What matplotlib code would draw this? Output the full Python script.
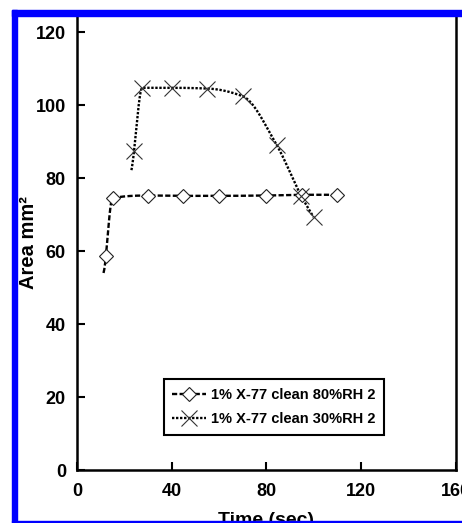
import matplotlib
matplotlib.use("Agg")
import matplotlib.pyplot as plt
from matplotlib.patches import Rectangle
import numpy as np

plt.rcParams['font.family'] = ['Liberation Sans', 'DejaVu Sans']
plt.rcParams['font.weight'] = 'bold'

# data
time_80 = [12.2, 15.0, 30.0, 45.0, 60.0, 80.0, 95.0, 110.0]
area_80 = [58.7, 74.6, 75.3, 75.2, 75.2, 75.3, 75.5, 75.5]
time_30 = [24.1, 27.6, 40.0, 55.0, 70.0, 84.5, 94.7, 100.0]
area_30 = [87.5, 104.8, 104.8, 104.6, 102.5, 89.0, 75.3, 69.4]
label_80 = "1% X-77 clean 80%RH 2"
label_30 = "1% X-77 clean 30%RH 2"
xticks = [0, 40, 80, 120, 160]
yticks = [0, 20, 40, 60, 80, 100, 120]


def smooth(xs, ys, x0, x1, n=300):
    # monotone cubic (pchip) through the points, ends extrapolated
    xs = np.asarray(xs, float)
    ys = np.asarray(ys, float)
    h = np.diff(xs)
    d = np.diff(ys) / h
    k = len(xs)
    m = np.zeros(k)
    for i in range(1, k - 1):
        if d[i - 1] * d[i] > 0:
            w1 = 2 * h[i] + h[i - 1]
            w2 = h[i] + 2 * h[i - 1]
            m[i] = (w1 + w2) / (w1 / d[i - 1] + w2 / d[i])
    m[0] = ((2 * h[0] + h[1]) * d[0] - h[0] * d[1]) / (h[0] + h[1])
    if np.sign(m[0]) != np.sign(d[0]):
        m[0] = 0
    m[-1] = ((2 * h[-1] + h[-2]) * d[-1] - h[-1] * d[-2]) / (h[-1] + h[-2])
    if np.sign(m[-1]) != np.sign(d[-1]):
        m[-1] = 0
    xx = np.linspace(x0, x1, n)
    seg = np.clip(np.searchsorted(xs, xx) - 1, 0, k - 2)
    t = (xx - xs[seg]) / h[seg]
    hh = h[seg]
    yy = ((2 * t**3 - 3 * t**2 + 1) * ys[seg] + (t**3 - 2 * t**2 + t) * hh * m[seg]
          + (-2 * t**3 + 3 * t**2) * ys[seg + 1] + (t**3 - t**2) * hh * m[seg + 1])
    return xx, yy


fig = plt.figure(figsize=(4.62, 5.23), dpi=100)
ax = fig.add_axes([0.1667, 0.1004, 0.8193, 0.8728])

sx, sy = smooth(time_80, area_80, 11.2, 110.0)
ax.plot(sx, sy, color='black', lw=1.7, dashes=(2.2, 1.0))
sx, sy = smooth(time_30, area_30, 23.0, 100.0)
ax.plot(sx, sy, color='black', lw=1.7, dashes=(1.0, 0.7))

ax.plot(time_80, area_80, ls='none', marker='D', ms=7.5, mfc='white', mec='#222222', mew=0.8)
ax.plot(time_30, area_30, ls='none', marker='x', ms=11, mec='#333333', mew=0.8)

# legend proxies
h80, = ax.plot([], [], color='black', lw=1.7, dashes=(2.2, 1.0), marker='D',
               ms=7.5, mfc='white', mec='#222222', mew=0.8)
h30, = ax.plot([], [], color='black', lw=1.7, dashes=(1.0, 0.7), marker='x',
               ms=11, mec='#333333', mew=0.8)
leg = ax.legend([h80, h30], [label_80, label_30], loc='lower left',
                bbox_to_anchor=(0.229, 0.078), borderaxespad=0,
                fontsize=10.5, handlelength=2.3, handletextpad=0.35,
                labelspacing=0.72, borderpad=0.6, fancybox=False,
                framealpha=1, edgecolor='black')
leg.get_frame().set_linewidth(1.5)
for t in leg.get_texts():
    t.set_fontweight('bold')

ax.set_xlim(0, 160)
ax.set_ylim(0, 125)
ax.set_xticks(xticks)
ax.set_yticks(yticks)
ax.tick_params(direction='in', length=6, width=1.5, labelsize=13, pad=8)
ax.tick_params(axis='x', pad=9)
for lab in ax.get_xticklabels() + ax.get_yticklabels():
    lab.set_fontweight('bold')
for s in ax.spines.values():
    s.set_linewidth(1.8)
ax.set_xlabel("Time (sec)", fontsize=14, fontweight='bold', labelpad=9)
ax.set_ylabel("Area mm²", fontsize=14.5, fontweight='bold')
ax.yaxis.set_label_coords(-0.102, 0.5)

# blue frame around the cropped figure
W, H = 462.0, 523.0
blue = (0, 0, 1)
fig.patches.append(Rectangle((12 / W, 1 - 15.5 / H), 1, 5.5 / H, transform=fig.transFigure,
                             color=blue, zorder=10))
fig.patches.append(Rectangle((12 / W, 0), 5 / W, 1 - 10 / H, transform=fig.transFigure,
                             color=blue, zorder=10))
fig.patches.append(Rectangle((12 / W, 1.0 / H), 1, 1.5 / H, transform=fig.transFigure,
                             color=blue, zorder=10))

fig.savefig("out.png", dpi=100)
